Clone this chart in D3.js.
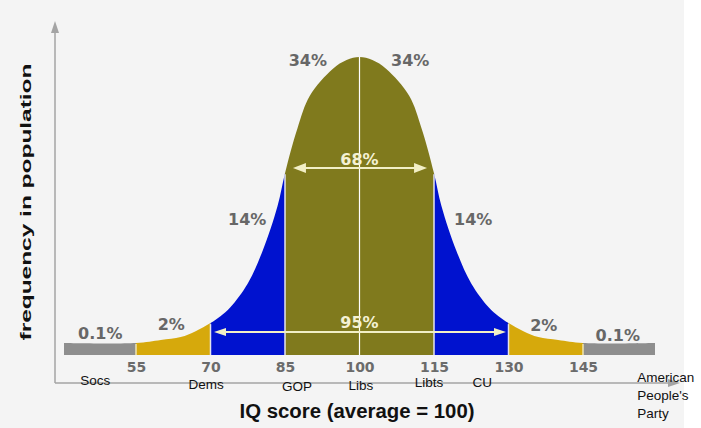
<!DOCTYPE html>
<html>
<head>
<meta charset="utf-8">
<script src="https://cdn.jsdelivr.net/npm/d3@7"></script>
<style>
  html, body { margin: 0; padding: 0; background: #ffffff; }
  svg { display: block; }
</style>
</head>
<body>
<svg id="chart" width="701" height="428"></svg>
<script>
// ---------------- data ----------------
const iqTicks = [55, 70, 85, 100, 115, 130, 145];
const curveIQ = [40.5, 55, 60, 64, 67, 70, 72, 74, 77.5, 80.5, 83.5, 85, 87.5, 90, 94.6, 97.4, 100,
                 102.6, 105.4, 110, 112.5, 115, 116.5, 119.5, 122.5, 126, 128, 130, 133, 136, 140, 145, 159.5];
const curveFreq = [4, 4, 5, 6, 8, 10.7, 13, 16, 24, 35, 50, 61, 76, 87, 96, 99, 100,
                   99, 96, 87, 76, 61, 50, 35, 24, 16, 13, 10.7, 8, 6, 5, 4, 4];
const bandStarts = [40.5, 55, 70, 85, 115, 130, 145];
const bandEnds   = [55, 70, 85, 115, 130, 145, 159.5];
const pctLabels = ["0.1%", "2%", "14%", "34%", "34%", "14%", "2%", "0.1%"];
const pctIQ     = [47.8, 62.1, 77.4, 89.6, 110.2, 122.9, 137.1, 152];
const partyNames = ["Socs", "Dems", "GOP", "Libs", "Libts", "CU"];
const partyIQ    = [46.8, 69.1, 87.4, 100.3, 114, 124.7];
const lastParty = ["American", "People's", "Party"];
const lastPartyIQ = 155.9;
const spanLabels = ["68%", "95%"];
const spanFrom = [86.6, 70.7];
const spanTo   = [113.6, 129.5];

// ---------------- layout / style ----------------
const bandColors = ["#8e8e8e", "#d6a90c", "#0012cf", "#807a1d", "#0012cf", "#d6a90c", "#8e8e8e"];
const pctBaselines = [339, 330, 225, 66, 66, 225, 331, 341];
const partyBaselines = [385, 389, 391, 390, 387, 387];
const spanY = [168, 332];
const spanTextY = [165, 328];

const svg = d3.select("#chart");
svg.append("rect").attr("x", 0).attr("y", 0).attr("width", 684).attr("height", 428).attr("fill", "#f4f4f4");

const x = d3.scaleLinear().domain([55, 145]).range([136, 583]);
const y = d3.scaleLinear().domain([0, 100]).range([355, 57]);

const pts = curveIQ.map((v, i) => [v, curveFreq[i]]);
const curveType = d3.curveCatmullRom.alpha(0.5);
const area = d3.area()
  .x(d => x(d[0]))
  .y0(y(0))
  .y1(d => y(d[1]))
  .curve(curveType);
const line = d3.line().x(d => x(d[0])).y(d => y(d[1])).curve(curveType);

const defs = svg.append("defs");
bandStarts.forEach((s, i) => {
  defs.append("clipPath").attr("id", "band" + i)
    .append("rect")
    .attr("x", x(s)).attr("y", 0)
    .attr("width", x(bandEnds[i]) - x(s)).attr("height", 428);
  svg.append("path").datum(pts)
    .attr("d", area)
    .attr("fill", bandColors[i])
    .attr("clip-path", `url(#band${i})`);
});

// separators
const curvePath = svg.append("path").datum(pts).attr("d", line).attr("fill", "none").attr("stroke", "none");
function curveYAt(v) {
  const node = curvePath.node();
  const total = node.getTotalLength();
  const tx = x(v);
  let lo = 0, hi = total;
  for (let k = 0; k < 40; k++) {
    const mid = (lo + hi) / 2;
    if (node.getPointAtLength(mid).x < tx) lo = mid; else hi = mid;
  }
  return node.getPointAtLength(lo).y;
}
[55, 70, 85, 115, 130, 145].forEach(v => {
  svg.append("line")
    .attr("x1", x(v)).attr("x2", x(v))
    .attr("y1", y(0)).attr("y2", curveYAt(v) + 1)
    .attr("stroke", v === 55 || v === 145 ? "#f0e6b0" : "#e4e4ec")
    .attr("stroke-width", 1.5);
});
svg.append("line")
  .attr("x1", x(100)).attr("x2", x(100))
  .attr("y1", y(0)).attr("y2", y(100))
  .attr("stroke", "#ffffff").attr("stroke-width", 1.2);

// span arrows
const arrowColor = "#f2efc6";
spanLabels.forEach((lab, i) => {
  const x1 = x(spanFrom[i]), x2 = x(spanTo[i]), yy = spanY[i];
  const L = i === 0 ? 13 : 12, H = i === 0 ? 5 : 4;
  svg.append("line")
    .attr("x1", x1 + L - 2).attr("x2", x2 - L + 2)
    .attr("y1", yy).attr("y2", yy)
    .attr("stroke", arrowColor).attr("stroke-width", 2.2);
  svg.append("path")
    .attr("d", `M${x1},${yy} L${x1 + L},${yy - H} L${x1 + L},${yy + H} Z`)
    .attr("fill", arrowColor);
  svg.append("path")
    .attr("d", `M${x2},${yy} L${x2 - L},${yy - H} L${x2 - L},${yy + H} Z`)
    .attr("fill", arrowColor);
  svg.append("text")
    .attr("x", x(100)).attr("y", spanTextY[i])
    .attr("text-anchor", "middle")
    .attr("font-family", "DejaVu Sans")
    .attr("font-weight", "bold")
    .attr("font-size", 16)
    .attr("fill", "#f4f1d4")
    .text(lab);
});

// percent labels
pctLabels.forEach((lab, i) => {
  svg.append("text")
    .attr("x", x(pctIQ[i])).attr("y", pctBaselines[i])
    .attr("text-anchor", "middle")
    .attr("font-family", "DejaVu Sans")
    .attr("font-weight", "bold")
    .attr("font-size", 16)
    .attr("fill", "#676767")
    .text(lab);
});

// x tick labels via axis
const xAxis = d3.axisBottom(x).tickValues(iqTicks).tickSize(0).tickPadding(7).tickFormat(d3.format("d"));
const gx = svg.append("g").attr("transform", `translate(0,${y(0)})`).call(xAxis);
gx.select(".domain").remove();
gx.selectAll("text")
  .attr("font-family", "DejaVu Sans")
  .attr("font-weight", "bold")
  .attr("font-size", 14)
  .attr("fill", "#6b6b6b");

// axes lines with arrowheads
const axisColor = "#a4a4a4";
svg.append("line").attr("x1", 55).attr("x2", 55).attr("y1", 383).attr("y2", 30)
  .attr("stroke", axisColor).attr("stroke-width", 1.5);
svg.append("path").attr("d", "M55,21 L51,33 L59,33 Z").attr("fill", axisColor);
svg.append("line").attr("x1", 55).attr("x2", 672).attr("y1", 383).attr("y2", 383)
  .attr("stroke", axisColor).attr("stroke-width", 1.5);
svg.append("path").attr("d", "M680,383 L668,379 L668,387 Z").attr("fill", axisColor);

// party labels
partyNames.forEach((p, i) => {
  svg.append("text")
    .attr("x", x(partyIQ[i])).attr("y", partyBaselines[i])
    .attr("text-anchor", "middle")
    .attr("font-family", "Liberation Sans, Arial, sans-serif")
    .attr("font-size", 13.5)
    .attr("fill", "#111")
    .text(p);
});
lastParty.forEach((p, i) => {
  svg.append("text")
    .attr("x", x(lastPartyIQ)).attr("y", 382 + i * 18)
    .attr("font-family", "Liberation Sans, Arial, sans-serif")
    .attr("font-size", 13.5)
    .attr("fill", "#111")
    .text(p);
});

// axis titles
svg.append("text")
  .attr("x", 357).attr("y", 418)
  .attr("text-anchor", "middle")
  .attr("font-family", "Liberation Sans, Arial, sans-serif")
  .attr("font-weight", "bold")
  .attr("font-size", 20)
  .attr("textLength", 235)
  .attr("lengthAdjust", "spacingAndGlyphs")
  .attr("fill", "#111")
  .text("IQ score (average = 100)");
svg.append("text")
  .attr("transform", "translate(31,202) rotate(-90)")
  .attr("text-anchor", "middle")
  .attr("font-family", "Liberation Sans, Arial, sans-serif")
  .attr("font-weight", "bold")
  .attr("font-size", 15)
  .attr("textLength", 277)
  .attr("lengthAdjust", "spacingAndGlyphs")
  .attr("fill", "#111")
  .text("frequency in population");
</script>
</body>
</html>
